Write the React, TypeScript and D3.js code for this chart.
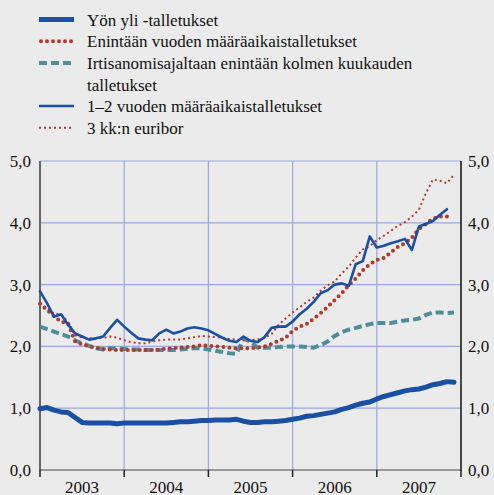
import { useEffect, useRef } from "react";
import * as d3 from "d3";

// monthly values, Jan 2003 = index 0
const yonYli = [
  0.99, 1.01, 0.97, 0.94, 0.93, 0.85, 0.77, 0.76, 0.76, 0.76, 0.76, 0.75,
  0.76, 0.76, 0.76, 0.76, 0.76, 0.76, 0.76, 0.77, 0.78, 0.78, 0.79, 0.80,
  0.80, 0.81, 0.81, 0.81, 0.82, 0.79, 0.77, 0.77, 0.78, 0.78, 0.79, 0.80,
  0.82, 0.84, 0.87, 0.88, 0.90, 0.92, 0.94, 0.98, 1.01, 1.05, 1.08, 1.10,
  1.15, 1.19, 1.22, 1.25, 1.28, 1.30, 1.31, 1.34, 1.38, 1.40, 1.43, 1.42,
];
const enintaanVuoden = [
  2.69, 2.59, 2.49, 2.40, 2.37, 2.08, 2.03, 2.00, 1.98, 1.96, 1.95, 1.94,
  1.94, 1.94, 1.94, 1.94, 1.94, 1.95, 1.96, 1.97, 1.98, 1.99, 2.00, 2.02,
  2.01, 2.00, 1.99, 1.98, 1.97, 1.97, 1.97, 1.98, 2.00, 2.04, 2.09, 2.14,
  2.25, 2.32, 2.36, 2.45, 2.54, 2.64, 2.75, 2.86, 2.99, 3.10, 3.23, 3.33,
  3.40, 3.43, 3.52, 3.61, 3.67, 3.76, 3.90, 3.98, 4.07, 4.10, 4.10,
];
const irtisanomis = [
  2.32, 2.28, 2.24, 2.20, 2.16, 2.10, 2.05, 2.01, 1.97, 1.95, 1.97, 1.97,
  1.96, 1.95, 1.95, 1.94, 1.94, 1.94, 1.94, 1.94, 1.95, 1.96, 1.97, 1.97,
  1.95, 1.93, 1.91, 1.89, 1.88, 2.12, 2.08, 1.98, 1.98, 1.98, 1.99, 2.00,
  2.00, 2.00, 1.99, 1.98, 2.02, 2.08, 2.17, 2.23, 2.27, 2.30, 2.33, 2.36,
  2.38, 2.38, 2.38, 2.40, 2.42, 2.43, 2.45, 2.51, 2.55, 2.55, 2.54, 2.55,
];
const vuoden12 = [
  2.89, 2.70, 2.48, 2.52, 2.35, 2.21, 2.16, 2.11, 2.13, 2.16, 2.30, 2.43,
  2.32, 2.22, 2.13, 2.11, 2.10, 2.21, 2.27, 2.21, 2.24, 2.29, 2.31, 2.29,
  2.26, 2.20, 2.14, 2.09, 2.07, 2.16, 2.09, 2.07, 2.15, 2.30, 2.32, 2.32,
  2.40, 2.52, 2.61, 2.72, 2.86, 2.91, 3.00, 3.02, 2.98, 3.33, 3.38, 3.78,
  3.60, 3.63, 3.67, 3.70, 3.74, 3.56, 3.94, 3.98, 4.03, 4.13, 4.22,
];
const euribor = [
  2.70, 2.62, 2.53, 2.52, 2.40, 2.18, 2.14, 2.13, 2.13, 2.14, 2.16, 2.14,
  2.10, 2.07, 2.05, 2.05, 2.08, 2.10, 2.11, 2.11, 2.11, 2.13, 2.15, 2.17,
  2.16, 2.15, 2.14, 2.12, 2.11, 2.10, 2.10, 2.11, 2.14, 2.20, 2.35, 2.45,
  2.55, 2.63, 2.72, 2.79, 2.90, 2.99, 3.05, 3.18, 3.29, 3.44, 3.57, 3.62,
  3.72, 3.79, 3.87, 3.95, 4.01, 4.10, 4.21, 4.48, 4.70, 4.68, 4.64, 4.78,
];

const years = ["2003", "2004", "2005", "2006", "2007"];
const yTicks = [0, 1, 2, 3, 4, 5];
const legendLabels = [
  ["Yön yli -talletukset"],
  ["Enintään vuoden määräaikaistalletukset"],
  ["Irtisanomisajaltaan enintään kolmen kuukauden", "talletukset"],
  ["1–2 vuoden määräaikaistalletukset"],
  ["3 kk:n euribor"],
];

const BLUE = "#1a50a3";
const RED = "#b3392c";
const TEAL = "#4e8e9a";
const GRID = "#9aa7e2";
const BG = "#ebebeb";
const FONT = "\"Liberation Serif\", \"Times New Roman\", Times, \"Nimbus Roman\", \"Noto Serif\", \"DejaVu Serif\", serif";

const styles = [
  { color: BLUE, width: 5, dash: null, cap: "round" },
  { color: RED, width: 4, dash: "0 6", cap: "round" },
  { color: TEAL, width: 4, dash: "8 4", cap: "butt" },
  { color: BLUE, width: 2.6, dash: null, cap: "round" },
  { color: RED, width: 2, dash: "2 3", cap: "butt" },
];

const App = () => {
  const ref = useRef<SVGSVGElement>(null);

  useEffect(() => {
    if (!ref.current) return;
    const W = 494, H = 495;
    const svg = d3.select(ref.current);
    svg.selectAll("*").remove();
    svg.attr("width", W).attr("height", H);

    svg.append("rect").attr("width", W).attr("height", H).attr("fill", BG);

    const x = d3.scaleLinear().domain([0, 60]).range([40, 461]);
    const y = d3.scaleLinear().domain([0, 5]).range([470, 161]);

    const txt = (sel: d3.Selection<SVGTextElement, unknown, null, undefined>) =>
      sel.attr("font-family", FONT).attr("font-size", 17).attr("fill", "#111");

    // grid
    const grid = svg.append("g");
    yTicks.filter(t => t > 0).forEach(t => {
      grid.append("line")
        .attr("x1", x(0)).attr("x2", x(60))
        .attr("y1", y(t)).attr("y2", y(t))
        .attr("stroke", GRID).attr("stroke-width", 1.2);
    });
    years.slice(1).forEach((_, i) => {
      const m = (i + 1) * 12;
      grid.append("line")
        .attr("x1", x(m)).attr("x2", x(m))
        .attr("y1", y(5)).attr("y2", y(0))
        .attr("stroke", GRID).attr("stroke-width", 1.2);
    });

    // axes
    svg.append("line")
      .attr("x1", x(0)).attr("x2", x(0)).attr("y1", y(5)).attr("y2", y(0))
      .attr("stroke", "#666").attr("stroke-width", 2);
    svg.append("line")
      .attr("x1", x(60)).attr("x2", x(60)).attr("y1", y(5)).attr("y2", y(0) + 1)
      .attr("stroke", "#111").attr("stroke-width", 1.5);
    svg.append("line")
      .attr("x1", x(0)).attr("x2", x(60)).attr("y1", y(0)).attr("y2", y(0))
      .attr("stroke", "#444").attr("stroke-width", 1.2);

    d3.range(0, 61, 12).forEach(m => {
      svg.append("line")
        .attr("x1", x(m)).attr("x2", x(m)).attr("y1", y(0)).attr("y2", y(0) + 7)
        .attr("stroke", "#222").attr("stroke-width", 1.5);
    });

    years.forEach((yr, i) => {
      txt(svg.append("text")
        .attr("x", x(i * 12 + 6)).attr("y", 493)
        .attr("text-anchor", "middle"))
        .text(yr);
    });

    const fmt = (v: number) => v.toFixed(1).replace(".", ",");
    yTicks.forEach(t => {
      txt(svg.append("text")
        .attr("x", 31).attr("y", y(t) + 6)
        .attr("text-anchor", "end"))
        .text(fmt(t));
      txt(svg.append("text")
        .attr("x", 468).attr("y", y(t) + 6))
        .text(fmt(t));
    });

    // series
    const line = d3.line<number>()
      .x((_, i) => x(i))
      .y(d => y(d));

    const series = [yonYli, enintaanVuoden, irtisanomis, vuoden12, euribor];
    const order = [2, 0, 4, 1, 3];
    order.forEach(k => {
      const s = styles[k];
      const p = svg.append("path")
        .datum(series[k])
        .attr("fill", "none")
        .attr("stroke", s.color)
        .attr("stroke-width", s.width)
        .attr("stroke-linecap", s.cap)
        .attr("stroke-linejoin", "round")
        .attr("d", line);
      if (s.dash) p.attr("stroke-dasharray", s.dash);
    });

    // legend
    const lg = svg.append("g");
    const baselines = [25.5, 47.2, 69, 112, 133.7];
    legendLabels.forEach((lines, i) => {
      const s = styles[i];
      const cy = baselines[i] - 6;
      const solid = !s.dash;
      const l = lg.append("line")
        .attr("x1", solid ? 39 : (s.cap === "round" ? 41 : 39))
        .attr("x2", solid ? 74 : (s.cap === "round" ? 72 : 74))
        .attr("y1", cy).attr("y2", cy)
        .attr("stroke", s.color)
        .attr("stroke-width", s.width)
        .attr("stroke-linecap", solid ? "butt" : s.cap);
      if (s.dash) l.attr("stroke-dasharray", s.dash);
      lines.forEach((t, j) => {
        txt(lg.append("text")
          .attr("x", 87).attr("y", baselines[i] + j * 21.6))
          .text(t);
      });
    });
  }, []);

  return (
    <svg ref={ref} style={{ position: "absolute", left: 0, top: 0, display: "block" }} />
  );
};

export default App;
